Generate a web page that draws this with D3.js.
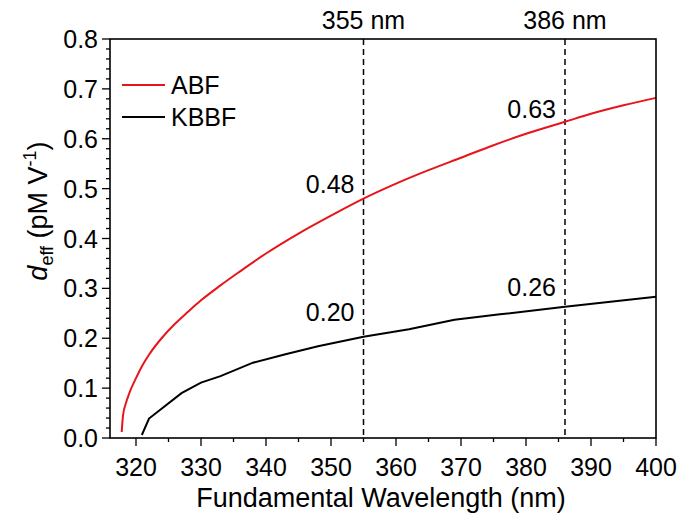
<!DOCTYPE html>
<html><head><meta charset="utf-8">
<script src="https://cdn.jsdelivr.net/npm/d3@7"></script>
<style>body{margin:0;background:#fff}svg{display:block}text{font-family:Arial,"Liberation Sans",sans-serif;fill:#000}</style>
</head><body><svg id="c" width="680" height="521"></svg>
<script>
const abfWavelength = [317.8,318,318.5,319,320,321,322,324,326,328,330,333,336,340,345,350,355,360,365,370,375,380,386,390,395,400];
const abfValues     = [0.012,0.045,0.072,0.091,0.12,0.146,0.167,0.201,0.229,0.253,0.276,0.306,0.334,0.37,0.41,0.446,0.48,0.51,0.537,0.562,0.587,0.61,0.634,0.65,0.667,0.682];
const kbbfWavelength = [320.9,322,327,330,333,338,343,348,355,362,369,376,386,393,400];
const kbbfValues     = [0.006,0.039,0.09,0.111,0.124,0.151,0.168,0.184,0.203,0.218,0.237,0.248,0.263,0.273,0.283];
const xTicks = [320,330,340,350,360,370,380,390,400];
const yTicks = [0.0,0.1,0.2,0.3,0.4,0.5,0.6,0.7,0.8];
const markers = [355,386];
const markerLabels = ["355 nm","386 nm"];
const annotations = [
  {x:355, v:0.48, t:"0.48", off:-6},
  {x:386, v:0.63, t:"0.63", off:-6},
  {x:355, v:0.20, t:"0.20", off:-17},
  {x:386, v:0.26, t:"0.26", off:-12}
];
const seriesNames = ["ABF","KBBF"];
const seriesColors = ["#e8141b","#000"];

const svg = d3.select("#c");
const L=110,R=656,T=39,B=438;
const FS=25;
const x = d3.scaleLinear().domain([316,400]).range([L,R]);
const y = d3.scaleLinear().domain([0,0.8]).range([B,T]);

const g = svg.append("g");
const xMinor = d3.range(325,400,10);
g.selectAll(".xm").data(xMinor).enter().append("line")
  .attr("x1",d=>x(d)).attr("x2",d=>x(d)).attr("y1",B).attr("y2",B+4).attr("stroke","#000").attr("stroke-width",1.3);
g.selectAll(".xM").data(xTicks).enter().append("line")
  .attr("x1",d=>x(d)).attr("x2",d=>x(d)).attr("y1",B).attr("y2",B+8).attr("stroke","#000").attr("stroke-width",1.3);
const yMinor = d3.range(0,0.8001,0.02).filter(v=>Math.abs(v*10-Math.round(v*10))>1e-6);
g.selectAll(".ym").data(yMinor).enter().append("line")
  .attr("x1",L-4).attr("x2",L).attr("y1",d=>y(d)).attr("y2",d=>y(d)).attr("stroke","#000").attr("stroke-width",1.3);
g.selectAll(".yM").data(yTicks).enter().append("line")
  .attr("x1",L-8).attr("x2",L).attr("y1",d=>y(d)).attr("y2",d=>y(d)).attr("stroke","#000").attr("stroke-width",1.3);

g.selectAll(".xl").data(xTicks).enter().append("text")
  .attr("x",d=>x(d)).attr("y",476).attr("text-anchor","middle").attr("font-size",FS).text(d=>d);
g.selectAll(".yl").data(yTicks).enter().append("text")
  .attr("x",98).attr("y",d=>y(d)+9).attr("text-anchor","end").attr("font-size",FS).text(d=>d.toFixed(1));

markers.forEach((m,i)=>{
  svg.append("line").attr("x1",x(m)).attr("x2",x(m)).attr("y1",T).attr("y2",B)
    .attr("stroke","#000").attr("stroke-width",1.5).attr("stroke-dasharray","6,4");
  svg.append("text").attr("x",x(m)).attr("y",29).attr("text-anchor","middle").attr("font-size",FS).text(markerLabels[i]);
});

const lineA = d3.line().x((d,i)=>x(abfWavelength[i])).y(d=>y(d)).curve(d3.curveMonotoneX);
svg.append("path").attr("d",lineA(abfValues)).attr("fill","none").attr("stroke",seriesColors[0]).attr("stroke-width",2);
const lineK = d3.line().x((d,i)=>x(kbbfWavelength[i])).y(d=>y(d));
svg.append("path").attr("d",lineK(kbbfValues)).attr("fill","none").attr("stroke",seriesColors[1]).attr("stroke-width",2);

annotations.forEach(a=>{
  svg.append("text").attr("x",x(a.x)-9).attr("y",y(a.v)+a.off)
    .attr("text-anchor","end").attr("font-size",FS).text(a.t);
});

svg.append("rect").attr("x",L).attr("y",T).attr("width",R-L).attr("height",B-T)
  .attr("fill","none").attr("stroke","#000").attr("stroke-width",1.6);

const legY=[85,117];
seriesNames.forEach((n,i)=>{
  svg.append("line").attr("x1",122).attr("x2",165).attr("y1",legY[i]).attr("y2",legY[i]).attr("stroke",seriesColors[i]).attr("stroke-width",2);
  svg.append("text").attr("x",171).attr("y",legY[i]+9).attr("font-size",FS).text(n);
});

svg.append("text").attr("x",(L+R)/2-2).attr("y",507).attr("text-anchor","middle").attr("font-size",27).text("Fundamental Wavelength (nm)");
const yt = svg.append("text").attr("transform","translate(47,211) rotate(-90)").attr("text-anchor","middle").attr("font-size",27);
yt.append("tspan").attr("font-style","italic").text("d");
yt.append("tspan").attr("font-size",18).attr("dy",6).text("eff");
yt.append("tspan").attr("dy",-6).text(" (pM V");
yt.append("tspan").attr("font-size",18).attr("dy",-11).text("-1");
yt.append("tspan").attr("dy",11).text(")");
</script></body></html>
